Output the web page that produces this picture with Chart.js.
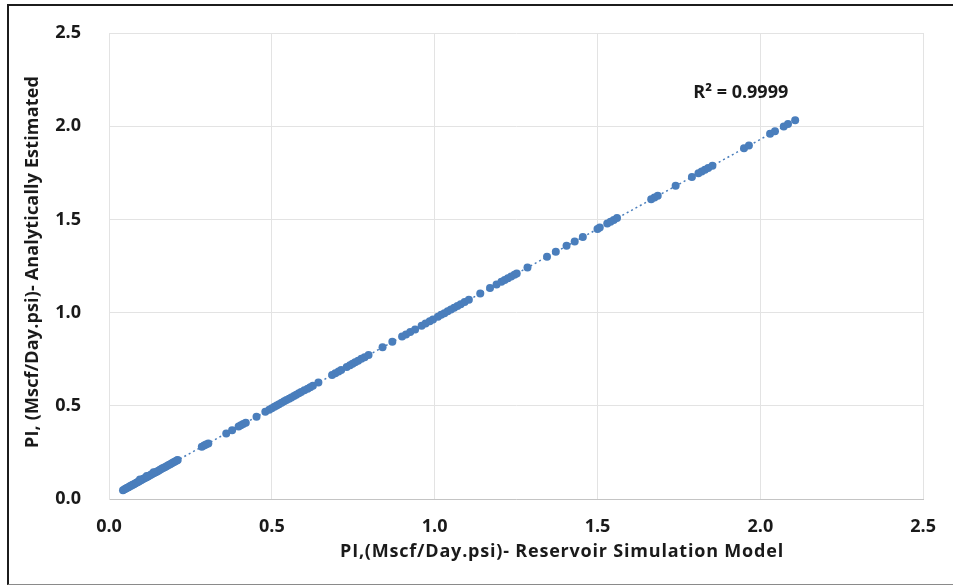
<!DOCTYPE html>
<html>
<head>
<meta charset="utf-8">
<script src="https://cdn.jsdelivr.net/npm/chart.js@4.4.1/dist/chart.umd.min.js"></script>
<style>
  html, body { margin: 0; padding: 0; background: #fff; }
  #wrap { position: relative; width: 953px; height: 585px; overflow: hidden; }
  #frame {
    position: absolute; left: 7px; top: 4px; width: 1000px; height: 578px;
    border-top: 2px solid #1c1c1c; border-left: 2px solid #1c1c1c; border-bottom: 1px solid #8a8a8a;
  }
  #chart { position: absolute; left: 0; top: 0; }
</style>
</head>
<body>
<div id="wrap">
  <div id="frame"></div>
  <canvas id="chart" width="953" height="585"></canvas>
</div>
<script>
// PI from the simulation model (x) vs. the analytical estimate (y)
const simPI = [
  0.043, 0.048, 0.052, 0.056, 0.060, 0.064, 0.068, 0.071, 0.075, 0.079,
  0.083, 0.087, 0.090, 0.094, 0.098, 0.102, 0.106, 0.110, 0.114, 0.118,
  0.122, 0.126, 0.130, 0.134, 0.139, 0.143, 0.148, 0.153, 0.158, 0.163,
  0.168, 0.173, 0.178, 0.183, 0.188, 0.193, 0.198, 0.203, 0.208, 0.211,
  0.285, 0.292, 0.298, 0.305, 0.360, 0.378, 0.398, 0.405, 0.412, 0.420,
  0.453, 0.480, 0.492, 0.500, 0.508, 0.515, 0.522, 0.530, 0.538, 0.545,
  0.553, 0.560, 0.568, 0.575, 0.583, 0.590, 0.600, 0.610, 0.618, 0.626,
  0.643, 0.685, 0.695, 0.705, 0.713, 0.730, 0.740, 0.748, 0.756, 0.765,
  0.775, 0.785, 0.797, 0.840, 0.870, 0.900, 0.912, 0.925, 0.940, 0.960,
  0.972, 0.985, 0.995, 1.010, 1.020, 1.030, 1.040, 1.050, 1.060, 1.070,
  1.080, 1.092, 1.105, 1.140, 1.170, 1.190, 1.205, 1.215, 1.225, 1.235,
  1.245, 1.252, 1.285, 1.345, 1.372, 1.405, 1.430, 1.455, 1.500, 1.507,
  1.530, 1.540, 1.550, 1.560, 1.665, 1.675, 1.685, 1.740, 1.790, 1.810,
  1.820, 1.830, 1.840, 1.853, 1.950, 1.965, 2.030, 2.045, 2.072, 2.085,
  2.107, 0.095, 0.116, 0.137
];
const estPI = [
  0.047, 0.052, 0.056, 0.060, 0.063, 0.068, 0.071, 0.075, 0.078, 0.082,
  0.086, 0.090, 0.093, 0.097, 0.101, 0.105, 0.108, 0.112, 0.116, 0.120,
  0.124, 0.127, 0.131, 0.135, 0.139, 0.144, 0.148, 0.153, 0.158, 0.163,
  0.168, 0.172, 0.177, 0.182, 0.187, 0.192, 0.197, 0.201, 0.206, 0.209,
  0.280, 0.287, 0.293, 0.298, 0.352, 0.369, 0.389, 0.396, 0.402, 0.409,
  0.441, 0.468, 0.479, 0.487, 0.495, 0.502, 0.508, 0.516, 0.524, 0.531,
  0.538, 0.545, 0.552, 0.559, 0.567, 0.574, 0.583, 0.592, 0.600, 0.608,
  0.625, 0.665, 0.675, 0.684, 0.692, 0.708, 0.718, 0.726, 0.733, 0.742,
  0.752, 0.761, 0.773, 0.814, 0.843, 0.872, 0.883, 0.896, 0.910, 0.930,
  0.942, 0.954, 0.963, 0.978, 0.988, 0.997, 1.007, 1.016, 1.026, 1.036,
  1.045, 1.057, 1.069, 1.103, 1.132, 1.151, 1.165, 1.175, 1.184, 1.194,
  1.203, 1.210, 1.242, 1.300, 1.326, 1.358, 1.382, 1.406, 1.449, 1.456,
  1.478, 1.488, 1.497, 1.507, 1.608, 1.618, 1.627, 1.680, 1.728, 1.747,
  1.757, 1.766, 1.776, 1.788, 1.882, 1.896, 1.959, 1.973, 1.999, 2.012,
  2.032, 0.104, 0.124, 0.144
];

// linear trendline end points
const trendX = [0.043, 2.107];
const trendY = [0.047, 2.032];

const axisTicks = [0, 0.5, 1.0, 1.5, 2.0, 2.5];
const r2Label = 'R² = 0.9999';
const xTitle = 'PI,(Mscf/Day.psi)- Reservoir Simulation Model';
const yTitle = 'PI, (Mscf/Day.psi)- Analytically Estimated';

const FONT = '"Open Sans", Lato, sans-serif';
const TEXT = '#1a1a1a';
const BLUE = 'rgb(74,126,188)';

const points = simPI.map((x, i) => ({ x, y: estPI[i] }));
const trend = trendX.map((x, i) => ({ x, y: trendY[i] }));

// axis titles + R² label, drawn at fixed spots
const labelsPlugin = {
  id: 'labels',
  afterDraw(chart) {
    const { ctx, scales } = chart;
    ctx.save();
    ctx.fillStyle = TEXT;
    ctx.font = 'bold 18px ' + FONT;
    ctx.textAlign = 'center';
    ctx.textBaseline = 'middle';
    ctx.fillText(r2Label, scales.x.getPixelForValue(1.94), scales.y.getPixelForValue(2.18));
    ctx.letterSpacing = '0.8px';
    ctx.fillText(xTitle, 562, 552);
    ctx.letterSpacing = '0.15px';
    ctx.translate(33, 262);
    ctx.rotate(-Math.PI / 2);
    ctx.fillText(yTitle, 0, 0);
    ctx.restore();
  },
};

const tickFont = { family: FONT, size: 18, weight: 'bold' };

new Chart(document.getElementById('chart'), {
  type: 'scatter',
  data: {
    datasets: [
      {
        data: points,
        backgroundColor: BLUE,
        borderWidth: 0,
        pointRadius: 4,
        order: 1,
      },
      {
        type: 'line',
        data: trend,
        borderColor: BLUE,
        borderWidth: 1.5,
        borderDash: [2, 3],
        pointRadius: 0,
        fill: false,
        order: 2,
      },
    ],
  },
  options: {
    responsive: false,
    animation: false,
    layout: { padding: { top: 33, right: 26, left: 0, bottom: 0 } },
    plugins: { legend: { display: false }, tooltip: { enabled: false } },
    scales: {
      x: {
        type: 'linear',
        min: 0,
        max: 2.5,
        afterFit(scale) { scale.height = 86; },
        afterBuildTicks(scale) { scale.ticks = axisTicks.map(v => ({ value: v })); },
        grid: { color: '#e3e3e3', drawTicks: false },
        border: { color: '#c4c4c4' },
        ticks: {
          padding: 17,
          color: TEXT,
          font: tickFont,
          callback: v => v.toFixed(1),
        },
      },
      y: {
        type: 'linear',
        min: 0,
        max: 2.5,
        afterFit(scale) { scale.width = 109; },
        afterBuildTicks(scale) { scale.ticks = axisTicks.map(v => ({ value: v })); },
        // invisible tick marks keep the labels away from the plot
        grid: { color: '#e3e3e3', drawTicks: true, tickLength: 25, tickColor: 'rgba(0,0,0,0)' },
        border: { color: '#e3e3e3' },
        ticks: {
          padding: 3,
          color: TEXT,
          font: tickFont,
          callback: v => v.toFixed(1),
        },
      },
    },
  },
  plugins: [labelsPlugin],
});
</script>
</body>
</html>
